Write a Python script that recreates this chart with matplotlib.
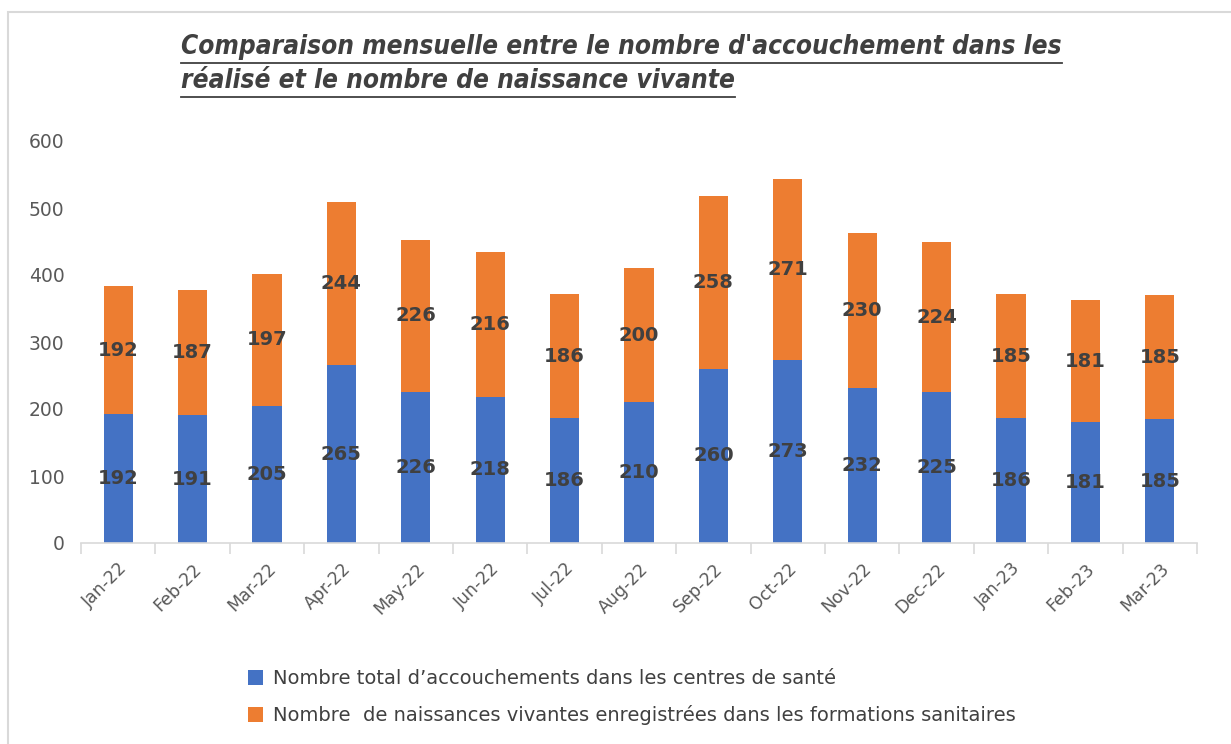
import matplotlib.pyplot as plt
from matplotlib.patches import Rectangle
from matplotlib.lines import Line2D
import numpy as np

mois = ["Jan-22", "Feb-22", "Mar-22", "Apr-22", "May-22", "Jun-22", "Jul-22", "Aug-22",
        "Sep-22", "Oct-22", "Nov-22", "Dec-22", "Jan-23", "Feb-23", "Mar-23"]
accouchements = [192, 191, 205, 265, 226, 218, 186, 210, 260, 273, 232, 225, 186, 181, 185]
naissances = [192, 187, 197, 244, 226, 216, 186, 200, 258, 271, 230, 224, 185, 181, 185]

serie1 = "Nombre total d\u2019accouchements dans les centres de santé"
serie2 = "Nombre  de naissances vivantes enregistrées dans les formations sanitaires"
titre = ["Comparaison mensuelle entre le nombre d'accouchement dans les",
         "réalisé et le nombre de naissance vivante"]

bleu = "#4472C4"
orange = "#ED7D31"
gris = "#595959"
W, H = 1231, 744

fig = plt.figure(figsize=(W / 100, H / 100), dpi=100)
ax = fig.add_axes([81 / W, 1 - 543 / H, (1197 - 81) / W, (543 - 141) / H])

# cadre du graphique
fig.patches.append(Rectangle((8 / W, -0.1), 1.2, 1 - 12 / H + 0.1, transform=fig.transFigure,
                             fill=False, edgecolor="#d9d9d9", linewidth=1.5))

x = np.arange(len(mois))
b1 = ax.bar(x, accouchements, width=0.39, color=bleu, label=serie1)
b2 = ax.bar(x, naissances, width=0.39, bottom=accouchements, color=orange, label=serie2)
ax.bar_label(b1, label_type="center", fontsize=14, fontweight="bold", color="#404040")
ax.bar_label(b2, label_type="center", fontsize=14, fontweight="bold", color="#404040")

ax.set_xlim(-0.5, len(mois) - 0.5)
ax.set_ylim(0, 600)
ax.set_yticks(range(0, 601, 100))
ax.set_xticks(x)
ax.set_xticklabels(mois, rotation=45, ha="right", rotation_mode="anchor")
ax.set_xticks(np.arange(-0.5, len(mois)), minor=True)
ax.tick_params(axis="x", which="major", length=0, pad=12, labelsize=12.5, labelcolor=gris)
ax.tick_params(axis="x", which="minor", length=8, color="#d9d9d9", width=1.2)
ax.tick_params(axis="y", length=0, pad=12, labelsize=13.5, labelcolor=gris)
for s in ["top", "right", "left"]:
    ax.spines[s].set_visible(False)
ax.spines["bottom"].set_color("#d9d9d9")
ax.spines["bottom"].set_linewidth(1.2)

# titre souligné
fig.canvas.draw()
r = fig.canvas.get_renderer()
for i, ligne in enumerate(titre):
    y = 1 - (47 + 34 * i) / H
    t = fig.text(181 / W, y, ligne, fontsize=18.8, fontweight="bold", fontstyle="italic",
                 fontstretch="condensed", family="DejaVu Sans", color="#404040",
                 ha="left", va="center")
    bb = t.get_window_extent(r)
    yl = (bb.y0 - 3) / H
    fig.lines.append(Line2D([bb.x0 / W, bb.x1 / W], [yl, yl], transform=fig.transFigure,
                            color="#404040", linewidth=1.3))

fig.legend(loc="upper left", bbox_to_anchor=(230 / W, 1 - 652 / H), frameon=False,
           fontsize=14, labelcolor="#404040", handlelength=0.8, handleheight=0.8,
           handletextpad=0.5, labelspacing=0.85)

fig.savefig("out.png", dpi=100)
